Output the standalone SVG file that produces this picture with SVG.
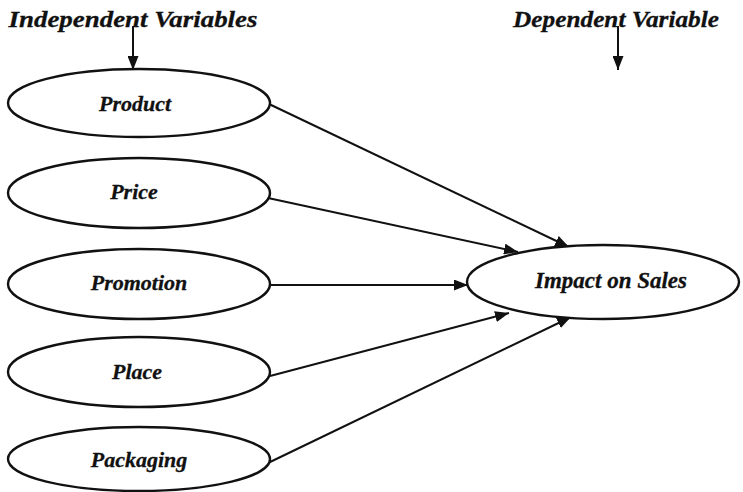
<svg xmlns="http://www.w3.org/2000/svg" width="743" height="492" viewBox="0 0 743 492">
  <style>
    .node ellipse { fill: #ffffff; stroke: #111111; stroke-width: 2.4; }
    .label { font-family: "Liberation Serif", "Times New Roman", serif; font-weight: bold; font-style: italic; fill: #111111; stroke: #111111; stroke-width: 0.3; text-anchor: middle; }
    .node .label { font-size: 22px; }
    .heading { font-size: 24px; }
    .edge { stroke: #111111; stroke-width: 2; fill: none; marker-end: url(#head); }
  </style>
  <defs>
    <marker id="head" viewBox="0 0 14 11" refX="14" refY="5.5" markerWidth="14" markerHeight="11" markerUnits="userSpaceOnUse" orient="auto">
      <path d="M0,0 L14,5.5 L0,11 Z" fill="#111111"/>
    </marker>
  </defs>
  <rect width="743" height="492" fill="#ffffff"/>

  <!-- column headings -->
  <g id="headings">
    <text class="label heading" x="133" y="27" textLength="249" lengthAdjust="spacingAndGlyphs">Independent Variables</text>
    <text class="label heading" x="616" y="27" textLength="206" lengthAdjust="spacingAndGlyphs">Dependent Variable</text>
  </g>

  <!-- connectors -->
  <g id="connectors">
    <line class="edge" x1="133" y1="26" x2="133" y2="70"/>
    <line class="edge" x1="618" y1="26" x2="618" y2="70"/>
    <line class="edge" x1="269" y1="104" x2="569" y2="247"/>
    <line class="edge" x1="268" y1="198" x2="518" y2="252"/>
    <line class="edge" x1="270" y1="285" x2="468" y2="285"/>
    <line class="edge" x1="270" y1="376" x2="509" y2="313"/>
    <line class="edge" x1="268" y1="463" x2="571" y2="317"/>
  </g>

  <!-- independent variables -->
  <g id="product" class="node">
    <ellipse cx="139" cy="103" rx="131" ry="34"/>
    <text class="label" x="135" y="111">Product</text>
  </g>
  <g id="price" class="node">
    <ellipse cx="139" cy="193" rx="131" ry="35"/>
    <text class="label" x="134" y="199">Price</text>
  </g>
  <g id="promotion" class="node">
    <ellipse cx="139" cy="284" rx="131" ry="35"/>
    <text class="label" x="139" y="290">Promotion</text>
  </g>
  <g id="place" class="node">
    <ellipse cx="139" cy="372" rx="131" ry="35"/>
    <text class="label" x="137" y="379">Place</text>
  </g>
  <g id="packaging" class="node">
    <ellipse cx="139" cy="459" rx="131" ry="32"/>
    <text class="label" x="139" y="467">Packaging</text>
  </g>

  <!-- dependent variable -->
  <g id="impact-on-sales" class="node">
    <ellipse cx="603" cy="282" rx="136" ry="37"/>
    <text class="label" x="611" y="288" style="font-size:23px">Impact on Sales</text>
  </g>
</svg>
